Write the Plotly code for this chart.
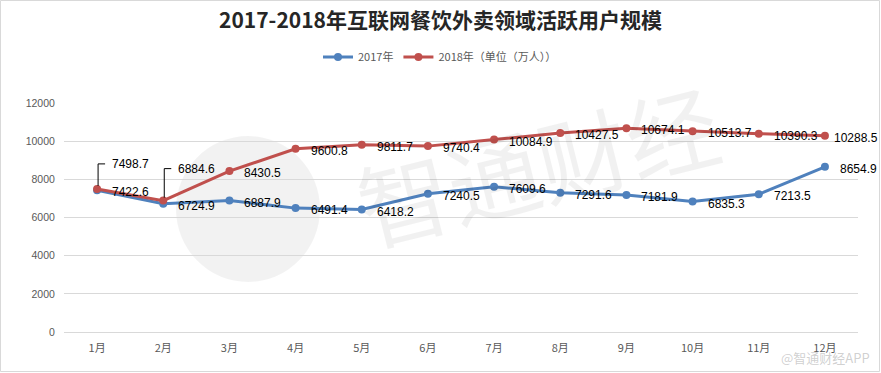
import plotly.graph_objects as go

months = ["1月", "2月", "3月", "4月", "5月", "6月", "7月", "8月", "9月", "10月", "11月", "12月"]
users_2017 = [7422.6, 6724.9, 6887.9, 6491.4, 6418.2, 7240.5, 7609.6, 7291.6, 7181.9, 6835.3, 7213.5, 8654.9]
users_2018 = [7498.7, 6884.6, 8430.5, 9600.8, 9811.7, 9740.4, 10084.9, 10427.5, 10674.1, 10513.7, 10390.3, 10288.5]
name_2017 = "2017年"
name_2018 = "2018年（单位（万人））"
title_text = "2017-2018年互联网餐饮外卖领域活跃用户规模"
y_ticks = [0, 2000, 4000, 6000, 8000, 10000, 12000]

W, H = 881, 373
ML, MR, MT, MB = 64, 23, 103, 41
PW, PH = W - ML - MR, H - MT - MB

BLUE = "#4F81BD"
RED = "#C0504D"
LABEL_FONT = dict(family="Liberation Sans, Arial, sans-serif", size=12, color="#000000")


def px_x(p):
    return (p - ML) / PW


def px_y(p):
    return (H - MB - p) / PH


fig = go.Figure()
for name, vals, col in [(name_2017, users_2017, BLUE), (name_2018, users_2018, RED)]:
    fig.add_trace(go.Scatter(
        x=months, y=vals, name=name, mode="lines+markers",
        line=dict(color=col, width=3),
        marker=dict(color=col, size=8, symbol="circle"),
        hoverinfo="x+y",
    ))

annotations = []
shapes = []
# watermarks (drawn first so they sit beneath)
annotations.append(dict(x=px_x(537), y=px_y(162), xref="paper", yref="paper",
                        xanchor="center", yanchor="middle",
                        text="智通财经", showarrow=False, textangle=-14,
                        font=dict(family="Noto Sans CJK SC", size=92, color="rgba(0,0,0,0.055)")))
annotations.append(dict(x=px_x(872), y=px_y(357), xref="paper", yref="paper",
                        text="@智通财经APP", showarrow=False, xanchor="right", yanchor="middle",
                        font=dict(family="Noto Sans CJK SC", size=13, color="rgba(150,150,150,0.45)")))
shapes.append(dict(type="circle", xref="paper", yref="paper",
                   x0=px_x(176), x1=px_x(320), y0=px_y(282), y1=px_y(136),
                   fillcolor="rgba(0,0,0,0.05)", line=dict(width=0), layer="below"))

# 2017 labels: right of the point
for m, v in zip(months, users_2017):
    annotations.append(dict(x=m, y=v, xref="x", yref="y", text=f"{v}", showarrow=False,
                            xanchor="left", yanchor="middle", xshift=13, yshift=-2, font=LABEL_FONT))
# 2018 labels: first two use leader lines above
for i, (m, v) in enumerate(zip(months, users_2018)):
    if i < 2:
        rise = 25 if i == 0 else 32
        annotations.append(dict(x=m, y=v, xref="x", yref="y", text=f"{v}", showarrow=False,
                                xanchor="left", yanchor="middle", xshift=13, yshift=rise, font=LABEL_FONT))
        shapes.append(dict(type="path", xref="x", yref="y", xsizemode="pixel", ysizemode="pixel",
                           xanchor=i, yanchor=v,
                           path=f"M 1 3 L 1 {rise} L 8 {rise}",
                           line=dict(color="#000000", width=1)))
    else:
        xs = 13 if i < 11 else 7
        annotations.append(dict(x=m, y=v, xref="x", yref="y", text=f"{v}", showarrow=False,
                                xanchor="left", yanchor="middle", xshift=xs, yshift=-2, font=LABEL_FONT))

# outer border
shapes.append(dict(type="rect", xref="paper", yref="paper",
                   x0=px_x(0.5), x1=px_x(W - 1.5), y0=px_y(H - 1.5), y1=px_y(0.5),
                   line=dict(color="#D9D9D9", width=1), fillcolor="rgba(0,0,0,0)"))

fig.update_layout(
    width=W, height=H,
    margin=dict(l=ML, r=MR, t=MT, b=MB),
    paper_bgcolor="#FFFFFF", plot_bgcolor="#FFFFFF",
    title=dict(text=f"<b>{title_text}</b>", x=0.5, xanchor="center", y=1 - 21 / H, yanchor="middle",
               font=dict(family="Noto Sans CJK SC", size=21, color="#262626")),
    legend=dict(orientation="h", x=px_x(440), xanchor="center", y=1 + (MT - 57) / PH, yanchor="middle",
                font=dict(family="Noto Sans CJK SC", size=11, color="#595959"),
                bgcolor="rgba(0,0,0,0)", itemwidth=30, tracegroupgap=0),
    xaxis=dict(type="category", range=[-0.5, 11.5], showgrid=False, showline=False, zeroline=False,
               ticks="outside", ticklen=6, tickcolor="rgba(0,0,0,0)", automargin=False,
               tickfont=dict(family="Noto Sans CJK SC", size=11, color="#595959")),
    yaxis=dict(range=[0, 12000], tickvals=y_ticks, tickformat="d", showgrid=True, gridcolor="#D9D9D9",
               gridwidth=1, zeroline=True, zerolinecolor="#D9D9D9", zerolinewidth=1, showline=False,
               ticks="outside", ticklen=6, tickcolor="rgba(0,0,0,0)", automargin=False,
               tickfont=dict(family="Liberation Sans, Arial, sans-serif", size=10.5, color="#595959")),
    annotations=annotations, shapes=shapes,
    showlegend=True,
)

fig.write_html("out.html", config={"displayModeBar": False},
               post_script="document.body.style.margin='0';document.body.style.padding='0';")
